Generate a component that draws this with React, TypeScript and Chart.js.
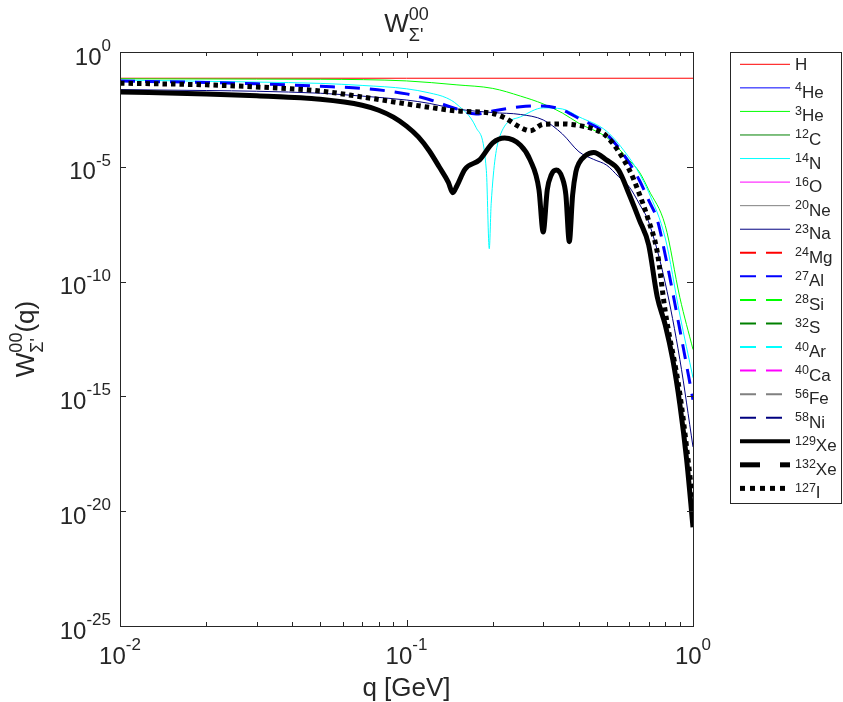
import React, { useEffect, useRef } from "react";
import { Chart, registerables } from "chart.js";

Chart.register(...registerables);

const INK = "#262626";
const FONT = '"Liberation Sans", Arial, Helvetica, sans-serif';

// nuclei in legend order
const MASS = ["", "4", "3", "12", "14", "16", "20", "23", "24", "27", "28", "32", "40", "40", "56", "58", "129", "132", "127"];
const SYMBOL = ["H", "He", "He", "C", "N", "O", "Ne", "Na", "Mg", "Al", "Si", "S", "Ar", "Ca", "Fe", "Ni", "Xe", "Xe", "I"];
const COLORS = [
  "#ff0000", "#0000ff", "#00ff00", "#008000", "#00ffff", "#ff00ff", "#808080", "#000080",
  "#ff0000", "#0000ff", "#00ff00", "#008000", "#00ffff", "#ff00ff", "#808080", "#000080",
  "#000000", "#000000", "#000000",
];
type Kind = "thin" | "dash" | "thick" | "thickdash" | "dot";
const KIND: Kind[] = [
  "thin", "thin", "thin", "thin", "thin", "thin", "thin", "thin",
  "dash", "dash", "dash", "dash", "dash", "dash", "dash", "dash",
  "thick", "thickdash", "dot",
];

// q [GeV] and W(q); spin-0 nuclei have W = 0 (nothing on a log axis)
const Q_H = [0.01, 0.1, 1];
const W_H = [7.2e-2, 7.2e-2, 7.2e-2];

const Q_HE3 = [0.01, 0.03, 0.05, 0.1, 0.15, 0.2, 0.25, 0.3, 0.35, 0.4, 0.5, 0.6, 0.65, 0.7, 0.8, 0.9, 1.0];
const W_HE3 = [6.8e-2, 6.6e-2, 6.5e-2, 5.5e-2, 3.7e-2, 2.6e-2, 1.2e-2, 5.5e-3, 2.2e-3, 7.8e-4, 1.9e-4, 1.9e-5, 5.9e-6, 1.0e-6, 2.8e-8, 2.0e-11, 1.1e-13];

const Q_N14 = [0.01, 0.03, 0.05, 0.07, 0.1, 0.12, 0.138, 0.15, 0.175, 0.19, 0.1945, 0.1975, 0.211, 0.25, 0.3, 0.35, 0.4, 0.5, 0.6, 0.65, 0.7, 0.8, 0.9, 1.0];
const W_N14 = [6.0e-2, 4.9e-2, 4.3e-2, 3.5e-2, 2.5e-2, 1.66e-2, 1.0e-2, 5.2e-3, 5.1e-4, 6.8e-6, 2.7e-9, 2.5e-7, 1.9e-4, 1.5e-3, 3.7e-3, 3.3e-3, 1.5e-3, 3.5e-4, 2.4e-5, 5.0e-6, 7.9e-7, 7.9e-9, 3.5e-12, 6.5e-15];

const Q_NA23 = [0.01, 0.02, 0.03, 0.05, 0.07, 0.1, 0.12, 0.15, 0.2, 0.25, 0.3, 0.35, 0.4, 0.45, 0.5, 0.55, 0.6, 0.65, 0.7, 0.8, 0.9, 1.0];
const W_NA23 = [2.3e-2, 2.1e-2, 1.95e-2, 1.6e-2, 1.2e-2, 8.1e-3, 5.8e-3, 3.3e-3, 2.3e-3, 1.9e-3, 1.1e-3, 2.7e-4, 4.5e-5, 2.1e-5, 1.17e-5, 3.7e-6, 1.3e-6, 2.4e-7, 4.0e-8, 8.7e-11, 4.0e-14, 6.3e-18];

const Q_AL27 = [0.01, 0.02, 0.03, 0.05, 0.07, 0.1, 0.12, 0.15, 0.175, 0.2, 0.25, 0.3, 0.35, 0.4, 0.5, 0.6, 0.65, 0.7, 0.75, 0.8, 0.9, 1.0];
const W_AL27 = [5.4e-2, 4.7e-2, 4.1e-2, 3.2e-2, 2.6e-2, 1.5e-2, 8.5e-3, 3.3e-3, 2.0e-3, 2.7e-3, 4.1e-3, 4.5e-3, 3.0e-3, 1.26e-3, 2.6e-4, 1.45e-5, 2.6e-6, 3.5e-7, 5.0e-8, 1.45e-9, 7.9e-13, 7.2e-16];

const Q_XE129 = [
  0.01, 0.02, 0.03, 0.05, 0.07, 0.08, 0.09, 0.1, 0.11, 0.12, 0.13, 0.14, 0.145, 0.15, 0.16, 0.18, 0.2, 0.22, 0.25,
  0.27, 0.29, 0.3, 0.31, 0.32, 0.333, 0.35, 0.36, 0.37, 0.38, 0.39, 0.4, 0.42, 0.45, 0.5, 0.55, 0.6, 0.65, 0.7,
  0.75, 0.8, 0.85, 0.9, 0.95, 1.0,
];
const W_XE129 = [
  1.8e-2, 1.5e-2, 1.23e-2, 8.7e-3, 4.8e-3, 2.9e-3, 1.45e-3, 5.9e-4, 2.0e-4, 5.0e-5, 1.0e-5, 2.1e-6, 7.4e-7, 1.5e-6, 7.9e-6, 2.0e-5, 1.1e-4, 1.8e-4, 8.7e-5,
  2.0e-5, 1.0e-6, 1.45e-8, 1.0e-6, 4.4e-6, 7.2e-6, 3.2e-6, 5.9e-7, 5.5e-9, 5.9e-7, 5.9e-6, 1.45e-5, 3.0e-5, 4.2e-5, 1.95e-5, 7.2e-6, 5.9e-7, 4.8e-8, 4.0e-9,
  2.2e-11, 1.3e-12, 4.0e-14, 4.4e-16, 1.8e-18, 2.0e-21,
];

const Q_I127 = [0.01, 0.02, 0.03, 0.05, 0.07, 0.1, 0.12, 0.15, 0.2, 0.22, 0.25, 0.27, 0.3, 0.35, 0.4, 0.45, 0.5, 0.6, 0.65, 0.7, 0.75, 0.8, 0.9, 1.0];
const W_I127 = [4.4e-2, 3.7e-2, 3.0e-2, 2.0e-2, 1.1e-2, 5.5e-3, 3.9e-3, 2.7e-3, 2.1e-3, 1.35e-3, 5.2e-4, 3.7e-4, 7.1e-4, 7.4e-4, 6.3e-4, 4.4e-4, 2.1e-4, 7.2e-6, 6.5e-7, 4.5e-8, 2.0e-9, 5.0e-12, 1.26e-15, 2.5e-20];

const NONE: number[] = [];
const SERIES: [number[], number[]][] = [
  [Q_H, W_H], [NONE, NONE], [Q_HE3, W_HE3], [NONE, NONE], [Q_N14, W_N14], [NONE, NONE], [NONE, NONE], [Q_NA23, W_NA23],
  [NONE, NONE], [Q_AL27, W_AL27], [NONE, NONE], [NONE, NONE], [NONE, NONE], [NONE, NONE], [NONE, NONE], [NONE, NONE],
  [Q_XE129, W_XE129], [NONE, NONE], [Q_I127, W_I127],
];

const X_MAJOR = [0.01, 0.1, 1];
const X_EXP = ["-2", "-1", "0"];
const Y_MAJOR = [1, 1e-5, 1e-10, 1e-15, 1e-20, 1e-25];
const Y_EXP = ["0", "-5", "-10", "-15", "-20", "-25"];

const PLOT_STYLE: Record<Kind, { w: number; dash: number[] }> = {
  thin: { w: 1, dash: [] },
  dash: { w: 3, dash: [15, 10] },
  thick: { w: 5, dash: [] },
  thickdash: { w: 5, dash: [20, 20] },
  dot: { w: 5, dash: [4.5, 4] },
};
const LEGEND_STYLE: Record<Kind, { w: number; dash: number[] }> = {
  thin: { w: 1, dash: [] },
  dash: { w: 2, dash: [16, 10] },
  thick: { w: 4, dash: [] },
  thickdash: { w: 5, dash: [20, 20] },
  dot: { w: 5, dash: [5, 5] },
};

type Part = { t: string; k?: "sup" | "sub"; stack?: boolean };

function drawTex(
  ctx: CanvasRenderingContext2D,
  parts: Part[],
  x: number,
  y: number,
  size: number,
  small: number,
  align: "left" | "center" | "right",
  rise: number,
  drop: number
) {
  let cur = 0;
  let prevStart = 0;
  let prevEnd = 0;
  const placed: { t: string; k?: string; x: number; fs: number }[] = [];
  for (const p of parts) {
    const fs = p.k ? small : size;
    ctx.font = `${fs}px ${FONT}`;
    const w = ctx.measureText(p.t).width;
    const start = p.stack ? prevStart : cur;
    const end = start + w;
    placed.push({ t: p.t, k: p.k, x: start, fs });
    cur = p.stack ? Math.max(prevEnd, end) : end;
    prevStart = start;
    prevEnd = end;
  }
  const x0 = align === "left" ? x : align === "center" ? x - cur / 2 : x - cur;
  ctx.textAlign = "left";
  ctx.textBaseline = "alphabetic";
  for (const p of placed) {
    ctx.font = `${p.fs}px ${FONT}`;
    const dy = p.k === "sup" ? -rise : p.k === "sub" ? drop : 0;
    ctx.fillText(p.t, x0 + p.x, y + dy);
  }
}

const frame = {
  id: "frame",
  afterDraw(chart: Chart) {
    const ctx = chart.ctx;
    const { left, right, top, bottom } = chart.chartArea;
    const xs = chart.scales.x;
    const ys = chart.scales.y;
    ctx.save();
    ctx.strokeStyle = INK;
    ctx.fillStyle = INK;
    ctx.lineWidth = 1;
    ctx.setLineDash([]);
    ctx.strokeRect(left + 0.5, top + 0.5, right - left, bottom - top);

    // x ticks (major + minor), inward, top and bottom
    ctx.beginPath();
    for (let d = 0; d < X_MAJOR.length; d++) {
      const base = X_MAJOR[d];
      for (let m = 1; m <= 9; m++) {
        const v = base * m;
        if (v > 1.0001) break;
        const px = Math.round(xs.getPixelForValue(v)) + 0.5;
        const len = m === 1 ? 6 : 4;
        ctx.moveTo(px, bottom);
        ctx.lineTo(px, bottom - len);
        ctx.moveTo(px, top);
        ctx.lineTo(px, top + len);
      }
    }
    for (const v of Y_MAJOR) {
      const py = Math.round(ys.getPixelForValue(v)) + 0.5;
      ctx.moveTo(left, py);
      ctx.lineTo(left + 6, py);
      ctx.moveTo(right, py);
      ctx.lineTo(right - 6, py);
    }
    ctx.stroke();

    X_MAJOR.forEach((v, i) => {
      const px = xs.getPixelForValue(v);
      drawTex(ctx, [{ t: "10" }, { t: X_EXP[i], k: "sup" }], px, bottom + 38, 24, 17, "center", 14, 0);
    });
    Y_MAJOR.forEach((v, i) => {
      const py = ys.getPixelForValue(v);
      drawTex(ctx, [{ t: "10" }, { t: Y_EXP[i], k: "sup" }], left - 9, py + 12.5, 24, 17, "right", 13.5, 0);
    });

    // axis labels and title
    drawTex(ctx, [{ t: "q [GeV]" }], (left + right) / 2, bottom + 70, 26, 18, "center", 0, 0);
    drawTex(
      ctx,
      [{ t: "W" }, { t: "00", k: "sup" }, { t: "\u03A3'", k: "sub", stack: true }],
      (left + right) / 2,
      32,
      26,
      18,
      "center",
      12,
      9
    );
    ctx.save();
    ctx.translate(34, (top + bottom) / 2);
    ctx.rotate(-Math.PI / 2);
    drawTex(
      ctx,
      [{ t: "W" }, { t: "00", k: "sup" }, { t: "\u03A3'", k: "sub", stack: true }, { t: "(q)" }],
      0,
      0,
      26,
      18,
      "center",
      12,
      9
    );
    ctx.restore();

    // legend
    const lx = 730;
    const ly = 52;
    const lw = 111;
    const lh = 451;
    ctx.fillStyle = "#ffffff";
    ctx.fillRect(lx, ly, lw, lh);
    ctx.strokeStyle = INK;
    ctx.lineWidth = 1;
    ctx.strokeRect(lx + 0.5, ly + 0.5, lw, lh);
    for (let i = 0; i < SYMBOL.length; i++) {
      const cy = 64.3 + i * 23.56;
      const st = LEGEND_STYLE[KIND[i]];
      ctx.strokeStyle = COLORS[i];
      ctx.lineWidth = st.w;
      ctx.lineCap = "butt";
      ctx.setLineDash(st.dash);
      ctx.beginPath();
      ctx.moveTo(740, cy);
      ctx.lineTo(790, cy);
      ctx.stroke();
      ctx.setLineDash([]);
      ctx.fillStyle = INK;
      if (MASS[i]) {
        drawTex(ctx, [{ t: MASS[i], k: "sup" }, { t: SYMBOL[i] }], 795, cy + 10, 17, 12.5, "left", 6.5, 0);
      } else {
        drawTex(ctx, [{ t: SYMBOL[i] }], 795, cy + 6, 17, 12.5, "left", 0, 0);
      }
    }
    ctx.restore();
  },
};

export default function App() {
  const canvasRef = useRef<HTMLCanvasElement>(null);

  useEffect(() => {
    if (!canvasRef.current) return;
    const n = SYMBOL.length;
    const datasets = SERIES.map(([qs, ws], i) => {
      const st = PLOT_STYLE[KIND[i]];
      return {
        label: `${MASS[i]}${SYMBOL[i]}`,
        data: qs.map((q, j) => ({ x: q, y: ws[j] })),
        borderColor: COLORS[i],
        backgroundColor: COLORS[i],
        borderWidth: st.w,
        borderDash: st.dash,
        borderCapStyle: "butt" as const,
        borderJoinStyle: "round" as const,
        cubicInterpolationMode: "monotone" as const,
        pointRadius: 0,
        fill: false,
        order: n - i,
      };
    });

    const chart = new Chart(canvasRef.current, {
      type: "line",
      data: { datasets },
      options: {
        responsive: false,
        animation: false,
        events: [],
        layout: { padding: { left: 120, top: 52, right: 150, bottom: 76 } },
        plugins: {
          legend: { display: false },
          tooltip: { enabled: false },
          title: { display: false },
        },
        scales: {
          x: { type: "logarithmic", min: 0.01, max: 1, display: false },
          y: { type: "logarithmic", min: 1e-25, max: 1, display: false },
        },
      },
      plugins: [frame],
    });

    return () => {
      chart.destroy();
    };
  }, []);

  return (
    <div style={{ position: "absolute", left: 0, top: 0, width: 843, height: 702, background: "#fff" }}>
      <canvas ref={canvasRef} width={843} height={702} style={{ display: "block" }} />
    </div>
  );
}
